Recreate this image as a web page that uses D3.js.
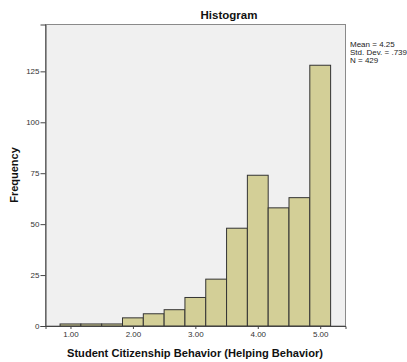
<!DOCTYPE html>
<html>
<head>
<meta charset="utf-8">
<script src="https://cdn.jsdelivr.net/npm/d3@7"></script>
<style>
  html, body { margin: 0; padding: 0; background: #fff; }
  svg { display: block; font-family: "Liberation Sans", Arial, sans-serif; }
</style>
</head>
<body>
<svg id="chart" width="407" height="362"></svg>
<script>
// Histogram bins: centre of each bin and its frequency
const binCenters = [1.0, 1.3333, 1.6667, 2.0, 2.3333, 2.6667, 3.0, 3.3333, 3.6667, 4.0, 4.3333, 4.6667, 5.0];
const binCounts  = [1, 1, 1, 4, 6, 8, 14, 23, 48, 74, 58, 63, 128];
const binWidth = 1 / 3;
const xTicks = [1, 2, 3, 4, 5];
const yTicks = [0, 25, 50, 75, 100, 125];
const stats = ["Mean = 4.25", "Std. Dev. = .739", "N = 429"];

const svg = d3.select("#chart");
const plot = { left: 45.5, right: 345.5, top: 24.5, bottom: 326 };

const x = d3.scaleLinear().domain([0.6, 5.405]).range([plot.left, plot.right]);
const y = d3.scaleLinear().domain([0, 148]).range([plot.bottom, plot.top]);

// Plot background
svg.append("rect")
  .attr("x", plot.left).attr("y", plot.top)
  .attr("width", plot.right - plot.left).attr("height", plot.bottom - plot.top)
  .attr("fill", "#f0f0f0")
  .attr("stroke", "#8a8a8a").attr("stroke-width", 1);

// Bars
svg.append("g").selectAll("rect")
  .data(binCenters.map((c, i) => ({ c, n: binCounts[i] })))
  .join("rect")
  .attr("x", d => x(d.c - binWidth / 2))
  .attr("width", d => x(d.c + binWidth / 2) - x(d.c - binWidth / 2))
  .attr("y", d => y(d.n))
  .attr("height", d => y(0) - y(d.n))
  .attr("fill", "#d3cf97")
  .attr("stroke", "#333")
  .attr("stroke-width", 1);

// Axes
const yAxis = svg.append("g")
  .attr("transform", `translate(${plot.left},0)`)
  .call(d3.axisLeft(y).tickValues(yTicks).tickSize(5).tickPadding(1).tickFormat(d3.format("d")));
const xAxis = svg.append("g")
  .attr("transform", `translate(0,${plot.bottom})`)
  .call(d3.axisBottom(x).tickValues(xTicks).tickSize(3).tickPadding(2).tickFormat(d3.format(".2f")));

[yAxis, xAxis].forEach(g => {
  g.select(".domain").attr("stroke", "#444");
  g.selectAll(".tick line").attr("stroke", "#444");
  g.selectAll(".tick text").attr("fill", "#333")
    .style("font-family", "'Liberation Sans', Arial, sans-serif").style("font-size", "8px");
});

// Title
svg.append("text")
  .attr("x", 229).attr("y", 19)
  .attr("text-anchor", "middle")
  .style("font-size", "11.5px").style("font-weight", "bold")
  .attr("fill", "#111")
  .text("Histogram");

// Axis titles
svg.append("text")
  .attr("x", 195).attr("y", 357)
  .attr("text-anchor", "middle")
  .attr("textLength", 256)
  .attr("lengthAdjust", "spacingAndGlyphs")
  .style("font-size", "11px").style("font-weight", "bold")
  .attr("fill", "#111")
  .text("Student Citizenship Behavior (Helping Behavior)");

svg.append("text")
  .attr("transform", "translate(18,175) rotate(-90)")
  .attr("text-anchor", "middle")
  .style("font-size", "11px").style("font-weight", "bold")
  .attr("fill", "#111")
  .text("Frequency");

// Summary statistics
svg.append("g").selectAll("text")
  .data(stats)
  .join("text")
  .attr("x", 350)
  .attr("y", (d, i) => 46.5 + i * 8.2)
  .style("font-size", "8px")
  .attr("fill", "#222")
  .text(d => d);
</script>
</body>
</html>
